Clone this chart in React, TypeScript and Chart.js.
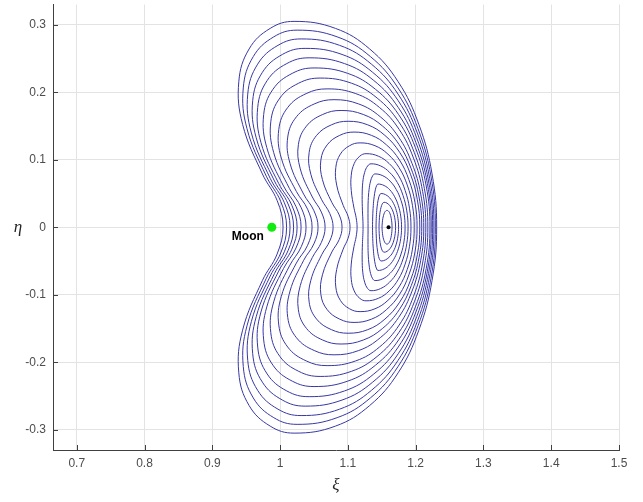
import { useEffect, useRef } from "react";
import { Chart, registerables } from "chart.js";

Chart.register(...registerables);

// ---- axes ----
const xRange = [0.665, 1.5];
const yRange = [-0.33, 0.33];
const xTicks = [0.7, 0.8, 0.9, 1.0, 1.1, 1.2, 1.3, 1.4, 1.5];
const xTickLabels = ["0.7", "0.8", "0.9", "1", "1.1", "1.2", "1.3", "1.4", "1.5"];
const yTicks = [-0.3, -0.2, -0.1, 0, 0.1, 0.2, 0.3];
const yTickLabels = ["-0.3", "-0.2", "-0.1", "0", "0.1", "0.2", "0.3"];
const xTitle = "ξ";
const yTitle = "η";

// ---- markers ----
const moonPoint = [0.9878, 0];
const moonLabel = "Moon";
const l2Point = [1.16, 0];

// ---- orbits: upper half (η ≥ 0), from the right crossing over the top to the left crossing ----
const orbit01 = [[1.231, 0], [1.2242, 0.079], [1.2047, 0.1525], [1.1742, 0.2156], [1.1322, 0.2641], [1.0817, 0.2946], [1.0206, 0.305], [0.9854, 0.2946], [0.9543, 0.2641], [0.9391, 0.2156], [0.9447, 0.1525], [0.9739, 0.079], [0.9956, 0.0397], [1.0044, 0]];
const orbit02 = [[1.2291, 0], [1.2226, 0.0756], [1.2035, 0.146], [1.174, 0.2064], [1.1332, 0.2529], [1.0842, 0.2821], [1.0251, 0.292], [0.9907, 0.2821], [0.9605, 0.2529], [0.9457, 0.2064], [0.9512, 0.146], [0.9797, 0.0756], [1.001, 0.038], [1.0096, 0]];
const orbit03 = [[1.227, 0], [1.2207, 0.0723], [1.2025, 0.1395], [1.174, 0.1973], [1.1348, 0.2416], [1.0878, 0.2695], [1.031, 0.279], [0.9969, 0.2695], [0.9669, 0.2416], [0.9523, 0.1973], [0.9577, 0.1395], [0.9855, 0.0723], [1.0063, 0.0363], [1.0147, 0]];
const orbit04 = [[1.2251, 0], [1.219, 0.0686], [1.2015, 0.1325], [1.1743, 0.1874], [1.1366, 0.2295], [1.0914, 0.256], [1.0369, 0.265], [1.0034, 0.256], [0.9739, 0.2295], [0.9596, 0.1874], [0.9648, 0.1325], [0.9917, 0.0686], [1.0118, 0.0345], [1.0199, 0]];
const orbit05 = [[1.223, 0], [1.2173, 0.065], [1.2004, 0.1255], [1.1743, 0.1775], [1.1383, 0.2174], [1.095, 0.2425], [1.0428, 0.251], [1.0099, 0.2425], [0.981, 0.2174], [0.967, 0.1775], [0.9718, 0.1255], [0.9979, 0.065], [1.0173, 0.0326], [1.0251, 0]];
const orbit06 = [[1.2211, 0], [1.2156, 0.0611], [1.1996, 0.118], [1.1749, 0.1669], [1.1407, 0.2044], [1.0997, 0.228], [1.0501, 0.236], [1.018, 0.228], [0.9895, 0.2044], [0.9758, 0.1669], [0.9804, 0.118], [1.0051, 0.0611], [1.0235, 0.0307], [1.031, 0]];
const orbit07 = [[1.218, 0], [1.2129, 0.0572], [1.1981, 0.1105], [1.1751, 0.1562], [1.1432, 0.1914], [1.1051, 0.2135], [1.059, 0.221], [1.0276, 0.2135], [0.9997, 0.1914], [0.9863, 0.1562], [0.9906, 0.1105], [1.0139, 0.0572], [1.0313, 0.0287], [1.0383, 0]];
const orbit08 = [[1.215, 0], [1.2103, 0.0531], [1.1968, 0.1025], [1.1757, 0.1449], [1.1466, 0.1775], [1.1116, 0.198], [1.0693, 0.205], [1.0385, 0.198], [1.0113, 0.1775], [0.9981, 0.1449], [1.0018, 0.1025], [1.024, 0.0531], [1.0406, 0.0267], [1.0472, 0]];
const orbit09 = [[1.212, 0], [1.2075, 0.049], [1.1947, 0.0945], [1.1749, 0.1336], [1.1478, 0.1637], [1.1161, 0.1826], [1.0796, 0.189], [1.0503, 0.1826], [1.0242, 0.1637], [1.0113, 0.1336], [1.0147, 0.0945], [1.0348, 0.049], [1.0499, 0.0246], [1.056, 0]];
const orbit10 = [[1.209, 0], [1.205, 0.0448], [1.1935, 0.0865], [1.1757, 0.1223], [1.1513, 0.1498], [1.1227, 0.1671], [1.09, 0.173], [1.0629, 0.1671], [1.0389, 0.1498], [1.027, 0.1223], [1.0298, 0.0865], [1.0476, 0.0448], [1.0609, 0.0225], [1.0664, 0]];
const orbit11 = [[1.2061, 0], [1.2025, 0.0407], [1.1924, 0.0785], [1.1764, 0.111], [1.1547, 0.136], [1.1294, 0.1517], [1.1003, 0.157], [1.0757, 0.1517], [1.0538, 0.136], [1.0429, 0.111], [1.0454, 0.0785], [1.0614, 0.0407], [1.0733, 0.0204], [1.0782, 0]];
const orbit12 = [[1.2021, 0], [1.199, 0.0365], [1.19, 0.0705], [1.1761, 0.0997], [1.1569, 0.1221], [1.1347, 0.1362], [1.1091, 0.141], [1.0881, 0.1362], [1.0695, 0.1221], [1.0602, 0.0997], [1.0625, 0.0705], [1.0765, 0.0365], [1.0872, 0.0183], [1.0914, 0]];
const orbit13 = [[1.1979, 0], [1.1953, 0.0324], [1.1876, 0.0625], [1.1755, 0.0884], [1.1591, 0.1083], [1.14, 0.1208], [1.118, 0.125], [1.1025, 0.1208], [1.0889, 0.1083], [1.0822, 0.0884], [1.0835, 0.0625], [1.0931, 0.0324], [1.1003, 0.0163], [1.1032, 0]];
const orbit14 = [[1.1931, 0], [1.1909, 0.0282], [1.1845, 0.0545], [1.1745, 0.0771], [1.1609, 0.0944], [1.145, 0.1053], [1.1268, 0.109], [1.1176, 0.1053], [1.1094, 0.0944], [1.105, 0.0771], [1.105, 0.0545], [1.1091, 0.0282], [1.1122, 0.0142], [1.1136, 0]];
const orbit15 = [[1.1888, 0], [1.1869, 0.0243], [1.1814, 0.047], [1.1729, 0.0665], [1.1615, 0.0814], [1.1484, 0.0908], [1.1342, 0.094], [1.1292, 0.0908], [1.1248, 0.0814], [1.122, 0.0665], [1.1211, 0.047], [1.1215, 0.0243], [1.1221, 0.0122], [1.1224, 0]];
const orbit16 = [[1.1844, 0], [1.1829, 0.0205], [1.1785, 0.0395], [1.1714, 0.0559], [1.1622, 0.0684], [1.1516, 0.0763], [1.1401, 0.079], [1.1366, 0.0763], [1.1335, 0.0684], [1.1313, 0.0559], [1.13, 0.0395], [1.1297, 0.0205], [1.1298, 0]];
const orbit17 = [[1.1792, 0], [1.178, 0.0166], [1.1745, 0.032], [1.169, 0.0452], [1.1619, 0.0554], [1.1535, 0.0618], [1.1445, 0.064], [1.1425, 0.0618], [1.1405, 0.0554], [1.1388, 0.0452], [1.1375, 0.032], [1.1367, 0.0166], [1.1364, 0]];
const orbit18 = [[1.1748, 0], [1.1739, 0.013], [1.1714, 0.025], [1.1673, 0.0354], [1.1619, 0.0433], [1.1556, 0.0483], [1.149, 0.05], [1.1471, 0.0483], [1.1453, 0.0433], [1.1438, 0.0354], [1.1426, 0.025], [1.1419, 0.013], [1.1416, 0]];
const orbit19 = [[1.1704, 0], [1.1698, 0.0096], [1.1681, 0.0185], [1.1654, 0.0262], [1.1619, 0.032], [1.1578, 0.0357], [1.1534, 0.037], [1.1515, 0.0357], [1.1497, 0.032], [1.1482, 0.0262], [1.147, 0.0185], [1.1463, 0.0096], [1.146, 0]];
const orbit20 = [[1.1652, 0], [1.1649, 0.0065], [1.1641, 0.0125], [1.163, 0.0177], [1.1615, 0.0217], [1.1596, 0.0242], [1.1578, 0.025], [1.1559, 0.0242], [1.1541, 0.0217], [1.1527, 0.0177], [1.1515, 0.0125], [1.1508, 0.0065], [1.1504, 0]];

const orbits = [
  orbit01, orbit02, orbit03, orbit04, orbit05, orbit06, orbit07, orbit08, orbit09, orbit10,
  orbit11, orbit12, orbit13, orbit14, orbit15, orbit16, orbit17, orbit18, orbit19, orbit20,
];

// the orbits are symmetric about η = 0: the lower half mirrors the upper half
function toLoop(upper: number[][]) {
  const lower = upper.slice(1, -1).reverse().map(([x, y]) => [x, -y]);
  return [...upper, ...lower].map(([x, y]) => ({ x, y }));
}

const AXIS_COLOR = "#404040";
const TEXT_COLOR = "#4d4d4d";
const ORBIT_COLOR = "rgb(55,55,165)";

const loopPlugin = {
  id: "closedOrbits",
  afterDatasetsUpdate(chart: any) {
    chart.data.datasets.forEach((ds: any, i: number) => {
      if (!ds._orbit) return;
      const line = chart.getDatasetMeta(i).dataset;
      if (line) {
        line._loop = true;
        line._fullLoop = true;
        line._segments = undefined;
        line._pointsUpdated = false;
      }
    });
  },
};

const decorPlugin = {
  id: "decor",
  afterDraw(chart: any) {
    const { ctx, chartArea } = chart;
    const xs = chart.scales.x;
    const ys = chart.scales.y;
    ctx.save();
    ctx.strokeStyle = AXIS_COLOR;
    ctx.lineWidth = 1;
    ctx.beginPath();
    xTicks.forEach((v) => {
      const px = Math.round(xs.getPixelForValue(v)) + 0.5;
      ctx.moveTo(px, chartArea.bottom);
      ctx.lineTo(px, chartArea.bottom - 5);
    });
    yTicks.forEach((v) => {
      const py = Math.round(ys.getPixelForValue(v)) + 0.5;
      ctx.moveTo(chartArea.left, py);
      ctx.lineTo(chartArea.left + 5, py);
    });
    ctx.stroke();

    ctx.fillStyle = "#262626";
    ctx.font = "italic 17px 'Liberation Serif', 'DejaVu Serif', serif";
    ctx.textAlign = "center";
    ctx.textBaseline = "middle";
    ctx.fillText(yTitle, chartArea.left - 35, ys.getPixelForValue(0));
    ctx.fillText(xTitle, (chartArea.left + chartArea.right) / 2, chartArea.bottom + 36);

    ctx.fillStyle = "#000";
    ctx.font = "bold 12px 'Liberation Sans', Arial, sans-serif";
    ctx.textAlign = "right";
    ctx.textBaseline = "middle";
    ctx.fillText(
      moonLabel,
      xs.getPixelForValue(moonPoint[0]) - 8,
      ys.getPixelForValue(moonPoint[1]) + 9
    );
    ctx.restore();
  },
};

export default function App() {
  const ref = useRef<HTMLCanvasElement | null>(null);

  useEffect(() => {
    if (!ref.current) return;
    const orbitSets = orbits.map((o) => ({
      data: toLoop(o),
      showLine: true,
      borderColor: ORBIT_COLOR,
      borderWidth: 1,
      pointRadius: 0,
      pointHoverRadius: 0,
      tension: 0.4,
      fill: false,
      _orbit: true,
    }));
    const chart = new Chart(ref.current, {
      type: "scatter",
      data: {
        datasets: [
          ...orbitSets,
          {
            data: [{ x: l2Point[0], y: l2Point[1] }],
            pointRadius: 2,
            pointBackgroundColor: "#000",
            pointBorderWidth: 0,
            showLine: false,
          },
          {
            data: [{ x: moonPoint[0], y: moonPoint[1] }],
            pointRadius: 4.5,
            pointBackgroundColor: "#10ec10",
            pointBorderWidth: 0,
            showLine: false,
          },
        ] as any,
      },
      options: {
        responsive: false,
        animation: false,
        devicePixelRatio: 1,
        layout: { padding: { left: 0, top: 0, right: 24, bottom: 0 } },
        plugins: {
          legend: { display: false },
          tooltip: { enabled: false },
        },
        events: [],
        scales: {
          x: {
            type: "linear",
            min: xRange[0],
            max: xRange[1],
            afterBuildTicks: (scale: any) => {
              scale.ticks = xTicks.map((v) => ({ value: v }));
            },
            afterFit: (scale: any) => {
              scale.height = 52;
              scale.paddingLeft = 0;
              scale.paddingRight = 0;
            },
            ticks: {
              autoSkip: false,
              maxRotation: 0,
              padding: 6,
              color: TEXT_COLOR,
              font: { family: "'Liberation Sans', Arial, sans-serif", size: 12 },
              callback: (_v: any, i: number) => xTickLabels[i],
            },
            grid: { color: "#e3e3e3", drawTicks: false, lineWidth: 1 },
            border: { display: true, color: AXIS_COLOR, width: 1 },
          },
          y: {
            type: "linear",
            min: yRange[0],
            max: yRange[1],
            afterBuildTicks: (scale: any) => {
              scale.ticks = yTicks.map((v) => ({ value: v }));
            },
            afterFit: (scale: any) => {
              scale.width = 53;
              scale.paddingTop = 0;
              scale.paddingBottom = 0;
            },
            ticks: {
              autoSkip: false,
              padding: 7,
              color: TEXT_COLOR,
              font: { family: "'Liberation Sans', Arial, sans-serif", size: 12 },
              callback: (_v: any, i: number) => yTickLabels[i],
            },
            grid: { color: "#e3e3e3", drawTicks: false, lineWidth: 1 },
            border: { display: true, color: AXIS_COLOR, width: 1 },
          },
        },
      } as any,
      plugins: [loopPlugin, decorPlugin],
    });
    return () => chart.destroy();
  }, []);

  return (
    <div style={{ position: "absolute", left: 0, top: 0, width: 643, height: 502, background: "#fff" }}>
      <canvas ref={ref} width={643} height={502} style={{ display: "block" }} />
    </div>
  );
}
